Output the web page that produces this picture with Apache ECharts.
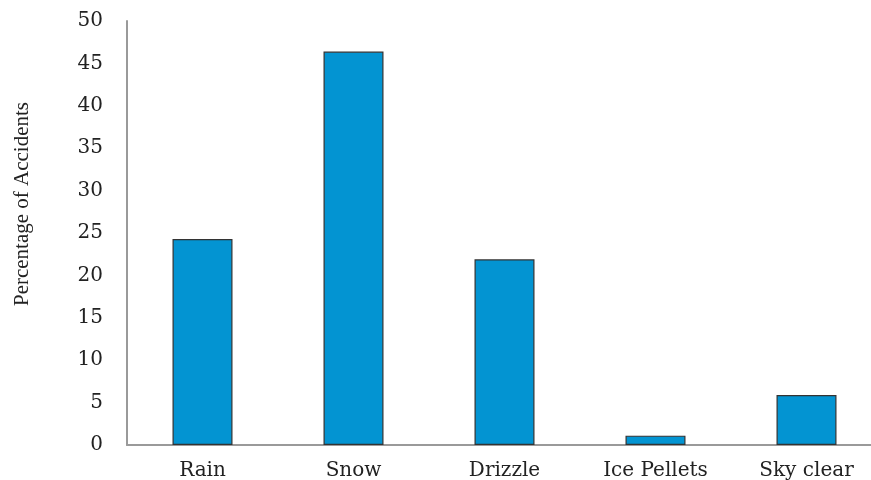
<!DOCTYPE html>
<html>
<head>
<meta charset="utf-8">
<script src="https://cdn.jsdelivr.net/npm/echarts@6/dist/echarts.min.js"></script>
<style>
  html, body { margin: 0; padding: 0; background: #fff; }
  #chart { width: 871px; height: 480px; }
</style>
</head>
<body>
<div id="chart"></div>
<script>
// Share of accidents by weather condition
const categories = ['Rain', 'Snow', 'Drizzle', 'Ice Pellets', 'Sky clear'];
const accidentShare = [24.3, 46.4, 21.9, 1.1, 5.9];
const yMin = 0, yMax = 50, yStep = 5;

const chart = echarts.init(document.getElementById('chart'));
chart.setOption({
  animation: false,
  grid: { left: 127, top: 21, width: 755, bottom: 35, outerBoundsMode: 'none', containLabel: false },
  xAxis: {
    type: 'category',
    data: categories,
    axisLine: { lineStyle: { color: '#9a9a9a', width: 2 } },
    axisTick: { show: false },
    axisLabel: {
      color: '#222',
      fontFamily: 'DejaVu Serif',
      fontSize: 20,
      margin: 16
    }
  },
  yAxis: {
    type: 'value',
    min: yMin, max: yMax, interval: yStep,
    name: 'Percentage of Accidents',
    nameLocation: 'middle',
    nameGap: 94,
    nameTextStyle: {
      color: '#222', fontFamily: 'Liberation Serif', fontSize: 21,
      padding: [0, 0, 0, 58]
    },
    axisLine: { show: true, lineStyle: { color: '#9a9a9a', width: 2 } },
    axisTick: { show: false },
    splitLine: { show: false },
    axisLabel: {
      color: '#222',
      fontFamily: 'DejaVu Serif',
      fontSize: 20,
      margin: 24
    }
  },
  series: [{
    type: 'bar',
    data: accidentShare,
    barWidth: 60,
    itemStyle: { color: '#0394d2', borderColor: '#333', borderWidth: 1.2 }
  }]
});
</script>
</body>
</html>
